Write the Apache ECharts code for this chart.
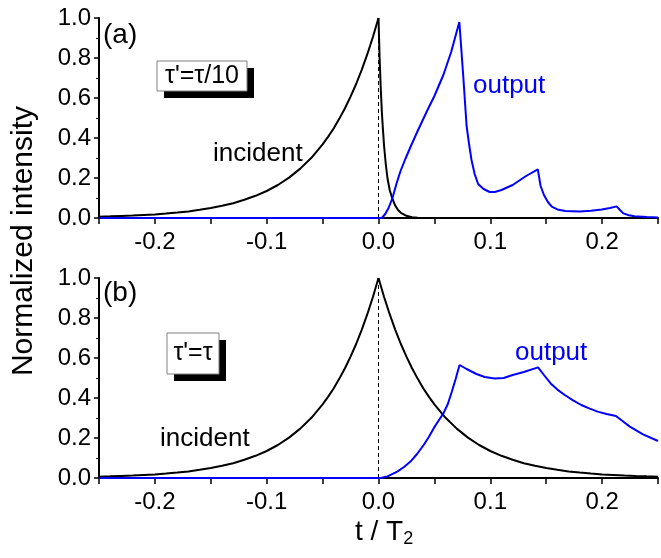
<!DOCTYPE html>
<html>
<head>
<meta charset="utf-8">
<script src="https://cdn.jsdelivr.net/npm/echarts@6/dist/echarts.min.js"></script>
<style>
  html, body { margin: 0; padding: 0; background: #fff; }
  #chart { width: 661px; height: 558px; }
</style>
</head>
<body>
<div id="chart"></div>
<script>
// Time axis in units of T2, intensity normalized to the incident peak.
const xTicks = [-0.2, -0.1, 0.0, 0.1, 0.2];
const yTicks = [0.0, 0.2, 0.4, 0.6, 0.8, 1.0];

// Leading edge of the incident pulse (same in both panels): [t, I]
const incidentRise = [
  [-0.25, 0.0067], [-0.24, 0.0082], [-0.23, 0.010], [-0.22, 0.012], [-0.21, 0.015],
  [-0.20, 0.018], [-0.19, 0.022], [-0.18, 0.027], [-0.17, 0.033], [-0.16, 0.041],
  [-0.15, 0.050], [-0.14, 0.061], [-0.13, 0.074], [-0.12, 0.091], [-0.11, 0.111],
  [-0.10, 0.135], [-0.09, 0.165], [-0.08, 0.202], [-0.07, 0.247], [-0.06, 0.301],
  [-0.05, 0.368], [-0.045, 0.407], [-0.04, 0.449], [-0.035, 0.497], [-0.03, 0.549],
  [-0.025, 0.607], [-0.02, 0.670], [-0.015, 0.741], [-0.01, 0.819], [-0.005, 0.905],
  [0.0, 1.0]
];

// Trailing edge, panel (a): fast decay
const incidentFallA = [
  [0.0, 1.0], [0.001, 0.80], [0.002, 0.65], [0.003, 0.53], [0.004, 0.44],
  [0.005, 0.36], [0.0065, 0.27], [0.008, 0.20], [0.010, 0.14], [0.0125, 0.095],
  [0.015, 0.062], [0.0175, 0.040], [0.020, 0.026], [0.025, 0.011], [0.030, 0.004],
  [0.035, 0.001], [0.040, 0.0], [0.25, 0.0]
];

// Trailing edge, panel (b): symmetric decay
const incidentFallB = [
  [0.0, 1.0], [0.005, 0.905], [0.01, 0.819], [0.015, 0.741], [0.02, 0.670],
  [0.025, 0.607], [0.03, 0.549], [0.035, 0.497], [0.04, 0.449], [0.045, 0.407],
  [0.05, 0.368], [0.06, 0.301], [0.07, 0.247], [0.08, 0.202], [0.09, 0.165],
  [0.10, 0.135], [0.11, 0.111], [0.12, 0.091], [0.13, 0.074], [0.14, 0.061],
  [0.15, 0.050], [0.16, 0.041], [0.17, 0.033], [0.18, 0.027], [0.19, 0.022],
  [0.20, 0.018], [0.21, 0.015], [0.22, 0.012], [0.23, 0.010], [0.24, 0.0082],
  [0.25, 0.0067]
];

// Transmitted intensity, panel (a)
const outputA = [
  [-0.25, 0.0], [0.003, 0.0], [0.006, 0.02], [0.009, 0.05], [0.0125, 0.10],
  [0.016, 0.17], [0.0197, 0.235], [0.024, 0.295], [0.0286, 0.355], [0.035, 0.435],
  [0.0434, 0.535], [0.050, 0.61], [0.058, 0.715], [0.065, 0.83], [0.0723, 0.98],
  [0.074, 0.85], [0.0758, 0.71], [0.0788, 0.46], [0.081, 0.37], [0.0832, 0.29],
  [0.086, 0.22], [0.0891, 0.17], [0.094, 0.145], [0.0994, 0.13], [0.104, 0.13],
  [0.110, 0.14], [0.120, 0.165], [0.132, 0.21], [0.1425, 0.243], [0.145, 0.16],
  [0.148, 0.115], [0.1515, 0.08], [0.155, 0.057], [0.160, 0.043], [0.167, 0.035],
  [0.180, 0.032], [0.190, 0.036], [0.1997, 0.043], [0.207, 0.050], [0.213, 0.058],
  [0.216, 0.040], [0.219, 0.023], [0.224, 0.014], [0.229, 0.009], [0.240, 0.005],
  [0.250, 0.003]
];

// Transmitted intensity, panel (b)
const outputB = [
  [-0.25, 0.0], [0.002, 0.0], [0.008, 0.008], [0.0168, 0.032], [0.0228, 0.055],
  [0.0286, 0.082], [0.0345, 0.12], [0.0404, 0.165], [0.045, 0.205], [0.0493, 0.248],
  [0.0535, 0.285], [0.0581, 0.323], [0.062, 0.37], [0.0655, 0.43], [0.069, 0.495],
  [0.0725, 0.565], [0.0788, 0.545], [0.0876, 0.52], [0.095, 0.505], [0.104, 0.497],
  [0.112, 0.50], [0.120, 0.515], [0.130, 0.53], [0.1427, 0.553], [0.148, 0.515],
  [0.154, 0.473], [0.160, 0.442], [0.1666, 0.415], [0.174, 0.388], [0.1814, 0.365],
  [0.189, 0.347], [0.196, 0.332], [0.204, 0.32], [0.2124, 0.31], [0.2185, 0.284],
  [0.2248, 0.257], [0.2366, 0.218], [0.248, 0.19], [0.25, 0.185]
];

// Vertical reference at t = 0
const zeroMarker = [[0.0, 0.0], [0.0, 1.0]];

const FONT = 'Arial, "Liberation Sans", sans-serif';
const BLUE = '#0000ff';

function xAxisFor(gridIndex) {
  return {
    type: 'value', gridIndex,
    min: -0.25, max: 0.25, interval: 0.05,
    axisLine: { onZero: false, lineStyle: { color: '#000', width: 2 } },
    axisTick: { show: true, length: 6, lineStyle: { color: '#000', width: 1.5 } },
    splitLine: { show: false },
    axisLabel: {
      fontFamily: FONT, fontSize: 24, color: '#000', margin: 12,
      formatter: v => {
        const hit = xTicks.find(t => Math.abs(t - v) < 1e-9);
        return hit === undefined ? '' : hit.toFixed(1);
      }
    }
  };
}

function yAxisFor(gridIndex) {
  return {
    type: 'value', gridIndex,
    min: yTicks[0], max: yTicks[yTicks.length - 1], interval: 0.2,
    axisLine: { show: true, onZero: false, lineStyle: { color: '#000', width: 2 } },
    axisTick: { show: true, length: 5, lineStyle: { color: '#000', width: 1.5 } },
    minorTick: { show: true, splitNumber: 2, length: 3, lineStyle: { color: '#000', width: 1 } },
    splitLine: { show: false },
    axisLabel: {
      fontFamily: FONT, fontSize: 24, color: '#000', margin: 8,
      formatter: v => v.toFixed(1)
    }
  };
}

function curve(data, color, xi, yi, extra) {
  return Object.assign({
    type: 'line', data, xAxisIndex: xi, yAxisIndex: yi,
    showSymbol: false, symbol: 'none', animation: false, silent: true,
    lineStyle: { color, width: 2 }, z: 3
  }, extra || {});
}

function labelBox(x, y, w, h, text, size) {
  return [
    { type: 'rect', shape: { x: x + 7, y: y + 7, width: w, height: h }, style: { fill: '#000' }, z: 10 },
    { type: 'rect', shape: { x, y, width: w, height: h }, style: { fill: '#fff', stroke: '#808080', lineWidth: 1 }, z: 11 },
    { type: 'text', x: x + w / 2, y: y + h / 2, z: 12,
      style: { text, font: size + 'px ' + FONT, fill: '#000', align: 'center', verticalAlign: 'middle' } }
  ];
}

function plainText(x, y, text, size, color) {
  return {
    type: 'text', x, y, z: 12,
    style: { text, font: size + 'px ' + FONT, fill: color, align: 'left', verticalAlign: 'middle' }
  };
}

const dashed = { color: '#000', width: 1, type: [4, 3] };

const chart = echarts.init(document.getElementById('chart'), null, { renderer: 'canvas' });

chart.setOption({
  animation: false,
  backgroundColor: '#fff',
  grid: [
    { left: 99, top: 18, width: 565, height: 200 },
    { left: 99, top: 278, width: 565, height: 200 }
  ],
  xAxis: [xAxisFor(0), xAxisFor(1)],
  yAxis: [yAxisFor(0), yAxisFor(1)],
  series: [
    curve(zeroMarker, '#000', 0, 0, { lineStyle: dashed, z: 2 }),
    curve(incidentRise, '#000', 0, 0),
    curve(incidentFallA, '#000', 0, 0),
    curve(outputA, BLUE, 0, 0, { z: 4 }),
    curve(zeroMarker, '#000', 1, 1, { lineStyle: dashed, z: 2 }),
    curve(incidentRise, '#000', 1, 1),
    curve(incidentFallB, '#000', 1, 1),
    curve(outputB, BLUE, 1, 1, { z: 4 })
  ],
  graphic: [
    ...labelBox(157, 61, 90, 30, 'τ\'=τ/10', 25),
    ...labelBox(167, 333, 52, 41, 'τ\'=τ', 25),
    plainText(103, 35, '(a)', 28, '#000'),
    plainText(103, 293, '(b)', 28, '#000'),
    plainText(213, 154, 'incident', 26, '#000'),
    plainText(160, 439, 'incident', 26, '#000'),
    plainText(473, 86, 'output', 26, BLUE),
    plainText(515, 353, 'output', 26, BLUE),
    {
      type: 'text', x: 24, y: 241, rotation: Math.PI / 2, z: 12,
      style: { text: 'Normalized intensity', font: '30px ' + FONT, fill: '#000', align: 'center', verticalAlign: 'middle' }
    },
    {
      type: 'text', x: 355, y: 532, z: 12,
      style: {
        text: '{m|t / T}{s|2}', fill: '#000', align: 'left', verticalAlign: 'middle',
        rich: {
          m: { font: '28px ' + FONT, fill: '#000' },
          s: { font: '18px ' + FONT, fill: '#000', padding: [14, 0, 0, 0] }
        }
      }
    }
  ]
});
</script>
</body>
</html>
